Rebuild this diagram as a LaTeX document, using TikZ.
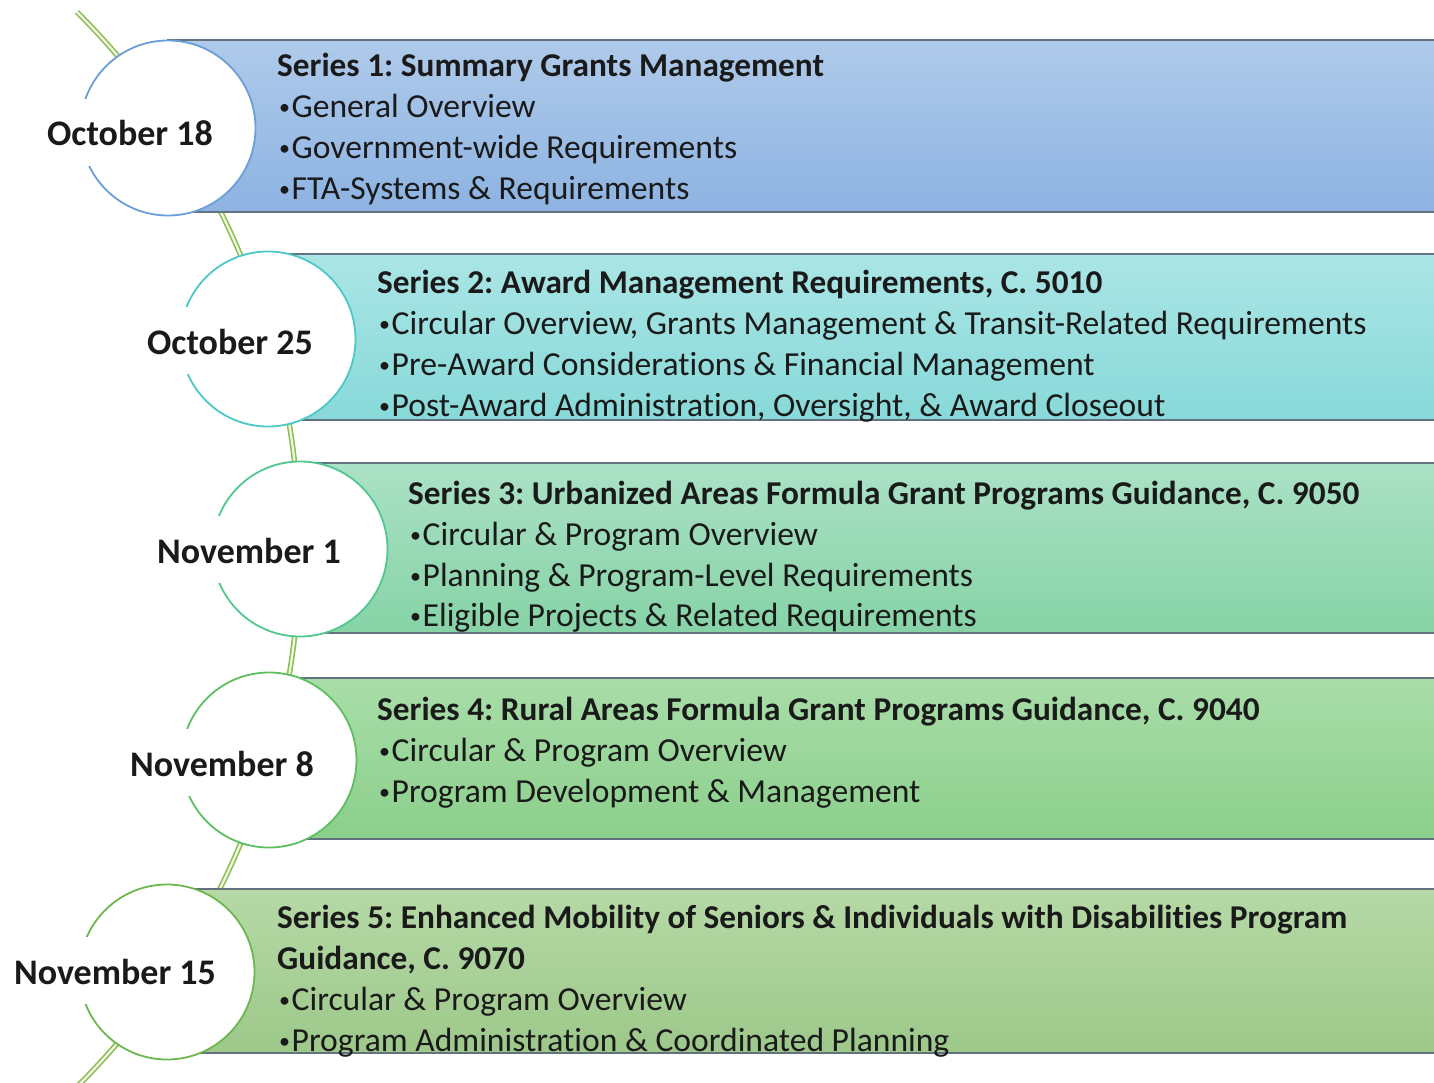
\documentclass[tikz,border=0pt]{standalone}
\usepackage{fontspec}
\setmainfont[Ligatures={NoCommon,NoContextual}]{Carlito}
\frenchspacing
\definecolor{ink}{HTML}{1A1A1A}
\definecolor{arcgreen}{HTML}{8DBE52}
\definecolor{arcfill}{HTML}{EEF6E4}
\definecolor{bargray}{HTML}{64717E}
\definecolor{ringA}{HTML}{6A9FD8}
\definecolor{ringB}{HTML}{4CC8C8}
\definecolor{ringC}{HTML}{50C890}
\definecolor{ringD}{HTML}{5CC060}
\definecolor{ringE}{HTML}{6BB84E}
\definecolor{barAt}{HTML}{AFCAEA}\definecolor{barAb}{HTML}{8DB3E2}
\definecolor{barBt}{HTML}{ABE5E5}\definecolor{barBb}{HTML}{88D9D9}
\definecolor{barCt}{HTML}{ABE1C6}\definecolor{barCb}{HTML}{86D3A6}
\definecolor{barDt}{HTML}{A9DDA9}\definecolor{barDb}{HTML}{8BCF8B}
\definecolor{barEt}{HTML}{B6D9A6}\definecolor{barEb}{HTML}{9DC88A}
% small list bullet
\newcommand\listdot{\hspace{2pt}\raisebox{3pt}{\fontsize{22}{22}\selectfont •}\hspace{1.5pt}}
\begin{document}
\begin{tikzpicture}[x=1pt,y=-1pt,
  timeline/.style={draw=arcgreen, line width=1.6pt, double=arcfill, double distance=2.2pt},
  bar/.style={draw=bargray, line width=1.5pt},
  stop/.style={circle, fill=white, line width=1.8pt, minimum size=175pt, inner sep=0pt},
  datelabel/.style={fill=white, inner xsep=3pt, inner ysep=0pt, text height=47pt,
    text depth=20pt, font=\fontsize{36}{40}\selectfont\bfseries, anchor=base, text=ink},
  heading/.style={anchor=base west, inner sep=0pt, font=\fontsize{33.3}{41}\selectfont\bfseries, text=ink},
  item/.style={anchor=base west, inner sep=0pt, font=\fontsize{33.6}{41}\selectfont, text=ink},
]
\useasboundingbox (0,0) rectangle (1434,1083);

% the timeline arc running through every date
\coordinate (arctop) at (77,12);
\draw[timeline] (arctop) arc[start angle=-45, end angle=45, radius=760];

% coloured bars
\path[bar, top color=barAt, bottom color=barAb] (168,40) rectangle (1445,212);
\path[bar, top color=barBt, bottom color=barBb] (268,254) rectangle (1445,420);
\path[bar, top color=barCt, bottom color=barCb] (300,463) rectangle (1445,633);
\path[bar, top color=barDt, bottom color=barDb] (269,678) rectangle (1445,839);
\path[bar, top color=barEt, bottom color=barEb] (167,889) rectangle (1445,1053);

% date circles
\node[stop, draw=ringA] (s1) at (168,128) {};
\node[stop, draw=ringB] (s2) at (268,339) {};
\node[stop, draw=ringC] (s3) at (300,549) {};
\node[stop, draw=ringD] (s4) at (269,760) {};
\node[stop, draw=ringE] (s5) at (167,972) {};

% dates
\node[datelabel] (d1) at (130,146) {October 18};
\node[datelabel] (d2) at (230,354) {October 25};
\node[datelabel] (d3) at (249,563) {November 1};
\node[datelabel] (d4) at (222,776) {November 8};
\node[datelabel] (d5) at (115,984) {November 15};

% series 1
\node[heading] (h1) at (277,77) {Series 1: Summary Grants Management};
\node[item] (i1a) at (277,118) {\listdot General Overview};
\node[item] (i1b) at (277,159) {\listdot Government-wide Requirements};
\node[item] (i1c) at (277,200) {\listdot FTA-Systems \& Requirements};

% series 2
\node[heading] (h2) at (377,293) {Series 2: Award Management Requirements, C. 5010};
\node[item] (i2a) at (377,334) {\listdot Circular Overview, Grants Management \& Transit-Related Requirements};
\node[item] (i2b) at (377,375) {\listdot Pre-Award Considerations \& Financial Management};
\node[item] (i2c) at (377,416) {\listdot Post-Award Administration, Oversight, \& Award Closeout};

% series 3
\node[heading] (h3) at (408,504) {Series 3: Urbanized Areas Formula Grant Programs Guidance, C. 9050};
\node[item] (i3a) at (408,545) {\listdot Circular \& Program Overview};
\node[item] (i3b) at (408,586) {\listdot Planning \& Program-Level Requirements};
\node[item] (i3c) at (408,626) {\listdot Eligible Projects \& Related Requirements};

% series 4
\node[heading] (h4) at (377,720) {Series 4: Rural Areas Formula Grant Programs Guidance, C. 9040};
\node[item] (i4a) at (377,761) {\listdot Circular \& Program Overview};
\node[item] (i4b) at (377,802) {\listdot Program Development \& Management};

% series 5
\node[heading] (h5a) at (277,928) {Series 5: Enhanced Mobility of Seniors \& Individuals with Disabilities Program};
\node[heading] (h5b) at (277,969) {Guidance, C. 9070};
\node[item] (i5a) at (277,1010) {\listdot Circular \& Program Overview};
\node[item] (i5b) at (277,1051) {\listdot Program Administration \& Coordinated Planning};
\end{tikzpicture}
\end{document}
